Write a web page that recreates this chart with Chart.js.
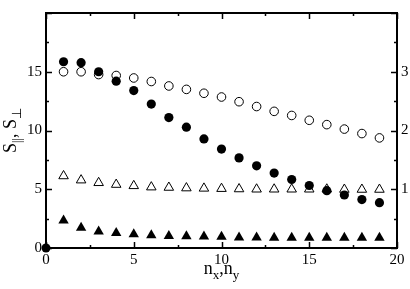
<!DOCTYPE html>
<html>
<head>
<meta charset="utf-8">
<script src="https://cdn.jsdelivr.net/npm/chart.js@4"></script>
<style>
  html, body { margin: 0; padding: 0; background: #fff; }
  #wrap { width: 410px; height: 289px; }
</style>
</head>
<body>
<div id="wrap"><canvas id="myChart" width="410" height="289"></canvas></div>
<script>
'use strict';

// n_x, n_y
var nValues = [1, 2, 3, 4, 5, 6, 7, 8, 9, 10, 11, 12, 13, 14, 15, 16, 17, 18, 19];

// left axis (S)
var filledCircles = [15.85, 15.77, 15.0, 14.2, 13.4, 12.25, 11.1, 10.28, 9.28, 8.42,
    7.67, 6.99, 6.38, 5.83, 5.32, 4.88, 4.51, 4.12, 3.86];
var openCircles = [15.0, 15.0, 14.76, 14.68, 14.47, 14.17, 13.79, 13.5, 13.17, 12.85,
    12.45, 12.04, 11.63, 11.28, 10.87, 10.5, 10.12, 9.74, 9.37];
var originPoint = [{ x: 0, y: 0 }];

// right axis
var openTriangles = [1.226, 1.155, 1.11, 1.08, 1.058, 1.036, 1.03, 1.02, 1.015, 1.01,
    1.004, 1.0, 1.0, 1.0, 1.0, 1.0, 0.996, 0.996, 0.996];
var filledTriangles = [0.47, 0.345, 0.28, 0.254, 0.232, 0.215, 0.206, 0.2, 0.195, 0.19,
    0.178, 0.177, 0.176, 0.176, 0.176, 0.176, 0.176, 0.176, 0.176];

var xTicks = [0, 5, 10, 15, 20];
var leftTicks = [0, 5, 10, 15];
var rightTicks = [1, 2, 3];

function toPoints(ys) {
    var pts = [];
    for (var i = 0; i < nValues.length; i++) {
        pts.push({ x: nValues[i], y: ys[i] });
    }
    return pts;
}

var serif = 'Liberation Serif';

// inward tick marks on all four sides
var tickMarks = {
    id: 'tickMarks',
    afterDraw: function (chart) {
        var ctx = chart.ctx;
        var a = chart.chartArea;
        var x = chart.scales.x;
        var y = chart.scales.y;
        var y2 = chart.scales.y2;
        ctx.save();
        ctx.strokeStyle = '#000';
        ctx.lineWidth = 1.5;
        ctx.beginPath();
        var v, p, len;
        for (v = 0; v <= 20; v += 2.5) {
            p = Math.round(x.getPixelForValue(v)) + 0.5;
            len = v % 5 === 0 ? 6 : 3;
            ctx.moveTo(p, a.bottom); ctx.lineTo(p, a.bottom - len);
            ctx.moveTo(p, a.top); ctx.lineTo(p, a.top + len);
        }
        for (v = 0; v <= 20; v += 2.5) {
            p = Math.round(y.getPixelForValue(v)) + 0.5;
            len = v % 5 === 0 ? 6 : 3;
            ctx.moveTo(a.left, p); ctx.lineTo(a.left + len, p);
        }
        for (v = 0; v <= 4; v += 0.5) {
            p = Math.round(y2.getPixelForValue(v)) + 0.5;
            len = v % 1 === 0 ? 6 : 3;
            ctx.moveTo(a.right, p); ctx.lineTo(a.right - len, p);
        }
        ctx.stroke();
        ctx.restore();
    }
};

// draws "A_b" pieces, returns the width
function drawPieces(ctx, pieces, x0, base, doDraw) {
    var cx = x0;
    for (var i = 0; i < pieces.length; i++) {
        var pc = pieces[i];
        ctx.font = pc.size + 'px "' + serif + '"';
        if (doDraw) ctx.fillText(pc.t, cx, base + (pc.dy || 0));
        cx += ctx.measureText(pc.t).width;
    }
    return cx - x0;
}

var axisTitles = {
    id: 'axisTitles',
    afterDraw: function (chart) {
        var ctx = chart.ctx;
        var a = chart.chartArea;
        ctx.save();
        ctx.fillStyle = '#000';
        ctx.textBaseline = 'alphabetic';
        ctx.textAlign = 'left';

        var xt = [
            { t: 'n', size: 18 }, { t: 'x', size: 13, dy: 5 }, { t: ',', size: 18 },
            { t: 'n', size: 18 }, { t: 'y', size: 13, dy: 5 }
        ];
        var w = drawPieces(ctx, xt, 0, 0, false);
        var cxm = (a.left + a.right) / 2;
        drawPieces(ctx, xt, cxm - w / 2, 274, true);

        var yt = [
            { t: 'S', size: 18 }, { t: '||', size: 12, dy: 5 }, { t: ', ', size: 18 },
            { t: 'S', size: 18 }, { t: '\u22A5', size: 13, dy: 5 }
        ];
        var wy = drawPieces(ctx, yt, 0, 0, false);
        ctx.translate(16, (a.top + a.bottom) / 2);
        ctx.rotate(-Math.PI / 2);
        drawPieces(ctx, yt, -wy / 2, 0, true);
        ctx.restore();
    }
};

var ctx = document.getElementById('myChart').getContext('2d');
var chart = new Chart(ctx, {
    type: 'scatter',
    data: {
        datasets: [
            {
                label: 'origin',
                data: originPoint,
                yAxisID: 'y',
                pointStyle: 'circle',
                pointRadius: 4.5,
                backgroundColor: '#000',
                borderColor: '#000',
                borderWidth: 0,
                clip: false
            },
            {
                label: 'filled circles',
                data: toPoints(filledCircles),
                yAxisID: 'y',
                pointStyle: 'circle',
                pointRadius: 4.6,
                backgroundColor: '#000',
                borderColor: '#000',
                borderWidth: 0
            },
            {
                label: 'filled triangles',
                data: toPoints(filledTriangles),
                yAxisID: 'y2',
                pointStyle: 'triangle',
                pointRadius: 6,
                backgroundColor: '#000',
                borderColor: '#000',
                borderWidth: 0
            },
            {
                label: 'open circles',
                data: toPoints(openCircles),
                yAxisID: 'y',
                pointStyle: 'circle',
                pointRadius: 4.3,
                backgroundColor: '#fff',
                borderColor: '#000',
                borderWidth: 1
            },
            {
                label: 'open triangles',
                data: toPoints(openTriangles),
                yAxisID: 'y2',
                pointStyle: 'triangle',
                pointRadius: 5.5,
                backgroundColor: '#fff',
                borderColor: '#000',
                borderWidth: 1
            }
        ]
    },
    options: {
        responsive: false,
        animation: false,
        events: [],
        layout: { padding: 0 },
        plugins: {
            legend: { display: false },
            tooltip: { enabled: false }
        },
        scales: {
            x: {
                type: 'linear',
                position: 'bottom',
                min: 0,
                max: 20,
                afterFit: function (s) { s.height = 41; },
                afterBuildTicks: function (s) {
                    s.ticks = xTicks.map(function (v) { return { value: v }; });
                },
                grid: { display: false, drawTicks: false },
                border: { display: true, color: '#000', width: 2 },
                ticks: {
                    padding: 3,
                    color: '#000',
                    font: { family: serif, size: 15 }
                }
            },
            x2: {
                type: 'linear',
                position: 'top',
                min: 0,
                max: 20,
                afterFit: function (s) { s.height = 2; },
                grid: { display: false, drawTicks: false },
                border: { display: true, color: '#000', width: 2 },
                ticks: { display: false }
            },
            y: {
                type: 'linear',
                position: 'left',
                min: 0,
                max: 20,
                afterFit: function (s) { s.width = 46; },
                afterBuildTicks: function (s) {
                    s.ticks = leftTicks.map(function (v) { return { value: v }; });
                },
                grid: { display: false, drawTicks: false },
                border: { display: true, color: '#000', width: 2 },
                ticks: {
                    padding: 4,
                    color: '#000',
                    font: { family: serif, size: 15 }
                }
            },
            y2: {
                type: 'linear',
                position: 'right',
                min: 0,
                max: 4,
                afterFit: function (s) { s.width = 13; },
                afterBuildTicks: function (s) {
                    s.ticks = rightTicks.map(function (v) { return { value: v }; });
                },
                grid: { display: false, drawTicks: false },
                border: { display: true, color: '#000', width: 2 },
                ticks: {
                    padding: 4,
                    color: '#000',
                    font: { family: serif, size: 15 }
                }
            }
        }
    },
    plugins: [tickMarks, axisTitles]
});
</script>
</body>
</html>
